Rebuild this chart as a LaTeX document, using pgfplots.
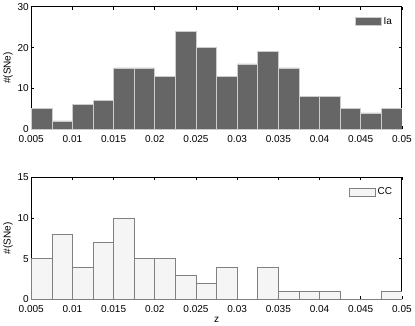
\documentclass[border=0pt]{standalone}
\usepackage{fontspec}
\setmainfont{Liberation Sans}
\usepackage{pgfplots}
\pgfplotsset{compat=1.18}
\begin{document}
\fontsize{10}{12}\selectfont
\begin{tikzpicture}
\pgfplotsset{
  histo/.style={
    scale only axis, width=370pt, height=122pt,
    xmin=0.005, xmax=0.05, ymin=0,
    scaled x ticks=false, scaled y ticks=false,
    xtick={0.005,0.01,0.015,0.02,0.025,0.03,0.035,0.04,0.045,0.05},
    xticklabels={0.005,0.01,0.015,0.02,0.025,0.03,0.035,0.04,0.045,0.05},
    /pgf/number format/assume math mode=true,
    tick label style={font=\fontsize{10}{12}\selectfont},
    xticklabel style={yshift=-3pt},
    yticklabel style={xshift=1pt},
    label style={font=\fontsize{10}{12}\selectfont},
    ylabel={\#(SNe)},
    axis line style={line width=1pt},
    major tick length=3pt, tick style={black, line width=0.8pt},
    ylabel style={yshift=-2pt},
    legend style={draw=none, fill=none, at={(0.982,0.94)}, anchor=north east,
      font=\fontsize{10}{12}\selectfont, inner sep=1pt},
    legend image code/.code={\draw[#1] (0pt,-4pt) rectangle (26pt,4pt);},
  },
}
\begin{axis}[histo, at={(0,0)}, ymax=30, ytick={0,10,20,30}]
\addplot[ybar interval, fill=black!60, draw=black!20, line width=0.6pt] coordinates {
(0.0050,5) (0.0075,2) (0.0100,6) (0.0125,7) (0.0150,15) (0.0175,15)
(0.0200,13) (0.0225,24) (0.0250,20) (0.0275,13) (0.0300,16) (0.0325,19)
(0.0350,15) (0.0375,8) (0.0400,8) (0.0425,5) (0.0450,4) (0.0475,5) (0.0500,0)};
\addlegendentry{Ia}
\end{axis}
\begin{axis}[histo, at={(0,-170pt)}, ymax=15, ytick={0,5,10,15}, xlabel={z},
  xlabel style={yshift=3pt}]
\addplot[ybar interval, fill=black!4, draw=black!50, line width=0.6pt] coordinates {
(0.0050,5) (0.0075,8) (0.0100,4) (0.0125,7) (0.0150,10) (0.0175,5)
(0.0200,5) (0.0225,3) (0.0250,2) (0.0275,4) (0.0300,0) (0.0325,4)
(0.0350,1) (0.0375,1) (0.0400,1) (0.0425,0) (0.0450,0) (0.0475,1) (0.0500,0)};
\addlegendentry{CC}
\end{axis}
\end{tikzpicture}
\end{document}
